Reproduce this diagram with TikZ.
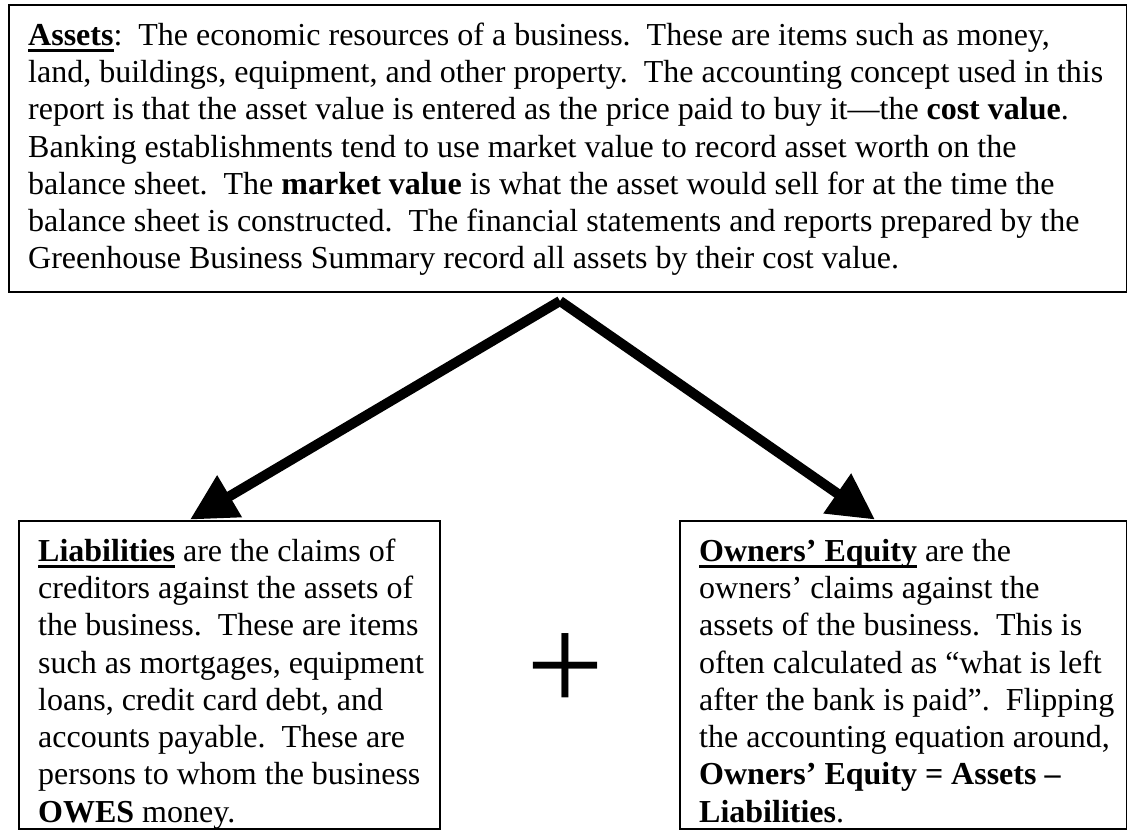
\documentclass[tikz,border=0pt]{standalone}
\usepackage{fontspec}
\setmainfont{Liberation Serif}
\usetikzlibrary{arrows.meta,calc}
\newcommand{\myul}[1]{\setbox0\hbox{#1}\rlap{\rule[-7pt]{\wd0}{3pt}}\box0{}}
\newcommand{\fs}{\rule{0pt}{30pt}}
\begin{document}
\begin{tikzpicture}[x=1pt,y=1pt,
  box/.style={draw,line width=2.4pt,inner sep=0pt,anchor=south west},
  txt/.style={anchor=north west,inner sep=0pt,align=left,font=\fontsize{32}{37.3}\selectfont},
  bigarrow/.style={line width=10pt,-{Triangle[length=46pt,width=46pt]}}]
\useasboundingbox (0,0) rectangle (1127,835);
\fill[white] (0,0) rectangle (1127,835);
\node[box,minimum width=1118pt,minimum height=287pt] (assets) at (8,542) {};
\node[box,minimum width=421pt,minimum height=308pt] (liab) at (18,5) {};
\node[box,minimum width=447pt,minimum height=308pt] (equity) at (679,5) {};
\node[txt] (assetstext) at (28,820) {\fs\myul{\textbf{Assets}}:\ \ The economic resources of a business.\ \ These are items such as money,\\
land, buildings, equipment, and other property.\ \ The accounting concept used in this\\
report is that the asset value is entered as the price paid to buy it---the \textbf{cost value}.\\
Banking establishments tend to use market value to record asset worth on the\\
balance sheet.\ \ The \textbf{market value} is what the asset would sell for at the time the\\
balance sheet is constructed.\ \ The financial statements and reports prepared by the\\
Greenhouse Business Summary record all assets by their cost value.};
\node[txt] (liabtext) at (38,304) {\fs\myul{\textbf{Liabilities}} are the claims of\\
creditors against the assets of\\
the business.\ \ These are items\\
such as mortgages, equipment\\
loans, credit card debt, and\\
accounts payable.\ \ These are\\
persons to whom the business\\
\textbf{OWES} money.};
\node[txt] (equitytext) at (699,304) {\fs\myul{\textbf{Owners’ Equity}} are the\\
owners’ claims against the\\
assets of the business.\ \ This is\\
often calculated as “what is left\\
after the bank is paid”.\ \ Flipping\\
the accounting equation around,\\
\textbf{Owners’ Equity = Assets –}\\
\textbf{Liabilities}.};
\node[inner sep=0pt,font=\fontsize{138}{138}\selectfont] (plus) at (565,162) {+};
\coordinate (apex) at (560,534);
\draw[bigarrow] (apex) -- ($(liab.north west)+(172,0)$);
\draw[bigarrow] (apex) -- ($(equity.north west)+(196,0)$);
\end{tikzpicture}
\end{document}
